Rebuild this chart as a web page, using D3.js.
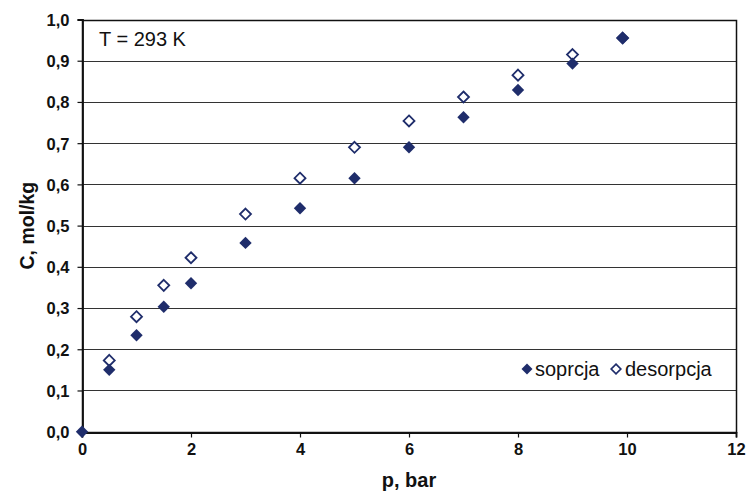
<!DOCTYPE html>
<html><head><meta charset="utf-8">
<script src="https://cdn.jsdelivr.net/npm/d3@7"></script>
<style>body{margin:0;background:#fff}svg{display:block;font-family:"Liberation Sans",Arial,sans-serif}</style>
</head><body><svg id="c" width="747" height="491"></svg>
<script>
const pressure = [0, 0.5, 1, 1.5, 2, 3, 4, 5, 6, 7, 8, 9, 9.92];
const sorption = [0, 0.15, 0.234, 0.303, 0.36, 0.458, 0.542, 0.615, 0.69, 0.763, 0.829, 0.893, 0.955];
const desPressure = [0.5, 1, 1.5, 2, 3, 4, 5, 6, 7, 8, 9, 9.92];
const desorption = [0.173, 0.279, 0.355, 0.422, 0.528, 0.615, 0.69, 0.754, 0.812, 0.865, 0.915, 0.955];
const xTicks = [0, 2, 4, 6, 8, 10, 12];
const yTicks = [0, 0.1, 0.2, 0.3, 0.4, 0.5, 0.6, 0.7, 0.8, 0.9, 1.0];
const seriesNames = ["soprcja", "desorpcja"];

const svg = d3.select("#c");
const L = 82, R = 736, T = 19.5, B = 431.7;
const x = d3.scaleLinear().domain([0, 12]).range([L, R]);
const y = d3.scaleLinear().domain([0, 1]).range([B, T]);
const navy = "#1F2D6B";
const ink = "#111";
const fmt = d => d3.format(".1f")(d).replace(".", ",");

// grid
svg.append("g").selectAll("line").data(yTicks).join("line")
  .attr("x1", L).attr("x2", R)
  .attr("y1", d => Math.round(y(d)) + 0.5).attr("y2", d => Math.round(y(d)) + 0.5)
  .attr("stroke", "#333").attr("stroke-width", 1);
// frame
svg.append("rect").attr("x", L + 0.5).attr("y", Math.round(T) + 0.5)
  .attr("width", Math.round(R - L)).attr("height", Math.round(B) - Math.round(T))
  .attr("fill", "none").attr("stroke", ink).attr("stroke-width", 1.5);

// axes
const yAxis = d3.axisLeft(y).tickValues(yTicks).tickFormat(fmt).tickSize(5).tickPadding(8);
const gy = svg.append("g").attr("transform", `translate(${L + 0.5},0)`).call(yAxis);
const xAxis = d3.axisBottom(x).tickValues(xTicks).tickFormat(d3.format("d")).tickSize(5).tickPadding(6);
const gx = svg.append("g").attr("transform", `translate(0,${Math.round(B) + 0.5})`).call(xAxis);
[gx, gy].forEach(g => {
  g.select(".domain").attr("stroke", ink).attr("stroke-width", 1.8);
  g.selectAll(".tick line").attr("stroke", ink).attr("stroke-width", 1.2);
  g.selectAll("text").attr("font-size", 16.5).attr("font-weight", "bold")
    .attr("fill", ink).attr("font-family", '"Liberation Sans",Arial,sans-serif');
});
gy.selectAll("text").attr("dy", "0.36em");

// axis titles
svg.append("text").attr("x", (L + R) / 2).attr("y", 487).attr("text-anchor", "middle")
  .attr("font-size", 20).attr("font-weight", "bold").attr("fill", ink).text("p, bar");
svg.append("text").attr("transform", `translate(34,${(T + B) / 2}) rotate(-90)`)
  .attr("text-anchor", "middle").attr("font-size", 19.5).attr("font-weight", "bold")
  .attr("fill", ink).text("C, mol/kg");

// annotation
svg.append("text").attr("x", 99).attr("y", 46).attr("font-size", 20).attr("fill", ink).text("T = 293 K");

function dia(r) { return `M0,${-r}L${r},0L0,${r}L${-r},0Z`; }

// desorption (open)
svg.append("g").selectAll("path").data(desPressure.map((p, i) => [p, desorption[i]])).join("path")
  .attr("d", dia(5.5)).attr("transform", d => `translate(${x(d[0])},${y(d[1])})`)
  .attr("fill", "#fff").attr("stroke", navy).attr("stroke-width", 1.8);
// sorption (filled)
svg.append("g").selectAll("path").data(pressure.map((p, i) => [p, sorption[i]])).join("path")
  .attr("d", dia(6.2)).attr("transform", d => `translate(${x(d[0])},${y(d[1])})`)
  .attr("fill", navy);

// legend
const lg = svg.append("g");
lg.append("rect").attr("x", 518).attr("y", 357).attr("width", 200).attr("height", 24).attr("fill", "#fff");
lg.append("path").attr("d", dia(5.5)).attr("transform", "translate(527,369)").attr("fill", navy);
lg.append("text").attr("x", 535).attr("y", 375.5).attr("font-size", 20).attr("fill", ink).text(seriesNames[0]);
lg.append("path").attr("d", dia(4.8)).attr("transform", "translate(616,369)")
  .attr("fill", "#fff").attr("stroke", navy).attr("stroke-width", 1.7);
lg.append("text").attr("x", 625).attr("y", 375.5).attr("font-size", 20).attr("fill", ink).text(seriesNames[1]);
</script></body></html>
